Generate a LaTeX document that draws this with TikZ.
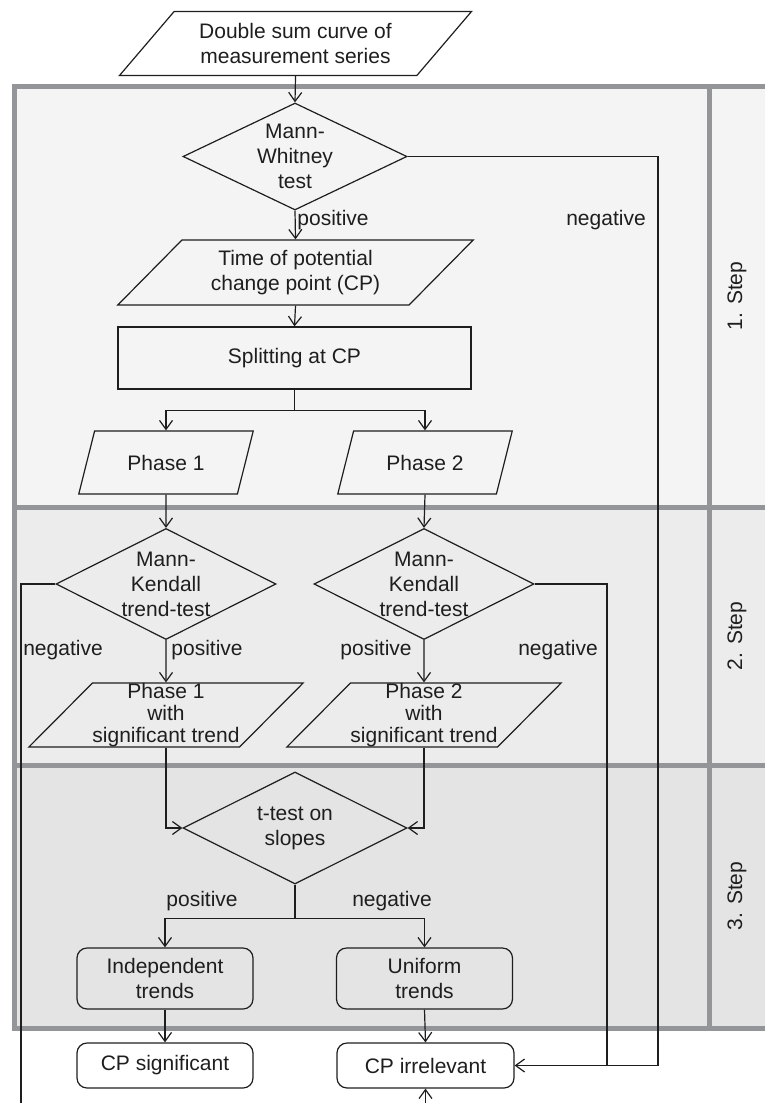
\documentclass[tikz,border=0pt]{standalone}
\usepackage{fontspec}
\setmainfont{Liberation Sans}
\usetikzlibrary{shapes.geometric,arrows.meta,calc}
\definecolor{framegray}{RGB}{147,149,152}
\definecolor{bgA}{RGB}{243,244,243}
\definecolor{bgB}{RGB}{236,236,236}
\definecolor{bgC}{RGB}{228,228,229}
\definecolor{ink}{RGB}{30,30,30}
\begin{document}
\begin{tikzpicture}[x=1pt,y=-1pt,line width=1.2pt,
  txt/.style={font=\fontsize{21}{25}\selectfont, align=center, text=ink},
  para/.style={draw=ink, trapezium, trapezium stretches=true, inner sep=0pt, txt},
  dia/.style={draw=ink, diamond, inner sep=0pt},
  procbox/.style={draw=ink, rectangle, inner sep=0pt, txt},
  roundbox/.style={draw=ink, rectangle, rounded corners=10pt, inner sep=0pt, txt},
  arr/.style={draw=ink, -{Straight Barb[length=9pt,width=13pt,line width=1.2pt]}},
  conn/.style={draw=ink}]
\useasboundingbox (0,0) rectangle (765,1103);
\clip (0,0) rectangle (765,1103);
% panels
\fill[bgA] (14,86) rectangle (780,507);
\fill[bgB] (14,507) rectangle (780,765);
\fill[bgC] (14,765) rectangle (780,1028);
\draw[framegray, line width=5pt] (14,86) rectangle (780,1028);
\draw[framegray, line width=5pt] (14,507) -- (780,507);
\draw[framegray, line width=5pt] (14,765) -- (780,765);
\draw[framegray, line width=5pt] (709,86) -- (709,1028);
\node[txt, rotate=90] (s1) at (737,296) {1. Step};
\node[txt, rotate=90] (s2) at (737,636) {2. Step};
\node[txt, rotate=90] (s3) at (737,896) {3. Step};
% nodes
\node[para, trapezium left angle=43, trapezium right angle=137, minimum width=353pt, minimum height=64pt] (top) at (295.5,43.5) {Double sum curve of\\measurement series};
\node[dia, minimum width=224pt, minimum height=107pt, label={[txt]center:Mann-\\Whitney\\test}] (mw) at (295,156.5) {};
\node[para, trapezium left angle=43, trapezium right angle=137, minimum width=356pt, minimum height=65pt] (tcp) at (295.5,272.5) {Time of potential\\change point (CP)};
\node[procbox, minimum width=353pt, minimum height=62pt] (split) at (294.5,358) {Splitting at CP};
\node[para, trapezium left angle=61, trapezium right angle=119, minimum width=175pt, minimum height=63pt] (ph1) at (166,462.5) {Phase 1};
\node[para, trapezium left angle=61, trapezium right angle=119, minimum width=175pt, minimum height=63pt] (ph2) at (425,462.5) {Phase 2};
\node[dia, minimum width=220pt, minimum height=111pt, label={[txt]center:Mann-\\Kendall\\trend-test}] (mk1) at (166,584) {};
\node[dia, minimum width=220pt, minimum height=111pt, label={[txt]center:Mann-\\Kendall\\trend-test}] (mk2) at (424,584) {};
\node[para, trapezium left angle=45, trapezium right angle=135, minimum width=265pt, minimum height=64pt] (pt1) at (166,715) {Phase 1\\[-3pt]with\\[-3pt]significant trend};
\node[para, trapezium left angle=45, trapezium right angle=135, minimum width=265pt, minimum height=64pt] (pt2) at (424,715) {Phase 2\\[-3pt]with\\[-3pt]significant trend};
\node[dia, minimum width=224pt, minimum height=112pt, label={[txt]center:t-test on\\slopes}] (tt) at (295,828) {};
\node[roundbox, minimum width=176pt, minimum height=61pt] (ind) at (165,978.5) {Independent\\trends};
\node[roundbox, minimum width=176pt, minimum height=61pt] (uni) at (424.5,978.5) {Uniform\\trends};
\node[roundbox, minimum width=176pt, minimum height=45pt] (cps) at (165,1065.5) {CP significant};
\node[roundbox, minimum width=177pt, minimum height=45pt] (cpi) at (425.5,1065.5) {CP irrelevant};
% edge labels
\node[txt] (lpos1) at (333,220) {positive};
\node[txt] (lneg1) at (606,220) {negative};
\node[txt] (lneg2) at (63,650) {negative};
\node[txt] (lpos2) at (207,650) {positive};
\node[txt] (lpos3) at (376,650) {positive};
\node[txt] (lneg3) at (558,650) {negative};
\node[txt] (lpos4) at (202,901) {positive};
\node[txt] (lneg4) at (392,901) {negative};
% helper coordinates
\coordinate (xr) at (658,0);
\coordinate (xm) at (607,0);
\coordinate (lb) at (21,1130);
% connectors
\draw[arr] (top.south) -- (mw.north);
\draw[arr] (mw.south) -- (tcp.north);
\draw[arr] (tcp.south) -- (split.north);
\draw[arr] (split.south) -- ++(0,21) -| (ph1.north);
\draw[arr] (split.south) -- ++(0,21) -| (ph2.north);
\draw[arr] (ph1.south) -- (mk1.north);
\draw[arr] (ph2.south) -- (mk2.north);
\draw[arr] (mk1.south) -- (pt1.north);
\draw[arr] (mk2.south) -- (pt2.north);
\draw[arr] (pt1.south) |- (tt.west);
\draw[arr] (pt2.south) |- (tt.east);
\draw[arr] (tt.south) -- ++(0,34) -| (ind.north);
\draw[arr] (tt.south) -- ++(0,34) -| (uni.north);
\draw[arr] (ind.south) -- (cps.north);
\draw[arr] (uni.south) -- (cpi.north);
\draw[arr] (mw.east) -| (cpi.east -| xr) -- (cpi.east);
\draw[conn] (mk2.east) -| (cpi.east -| xm);
\draw[arr] (mk1.west) -| (lb) -| (cpi.south);
\end{tikzpicture}
\end{document}
